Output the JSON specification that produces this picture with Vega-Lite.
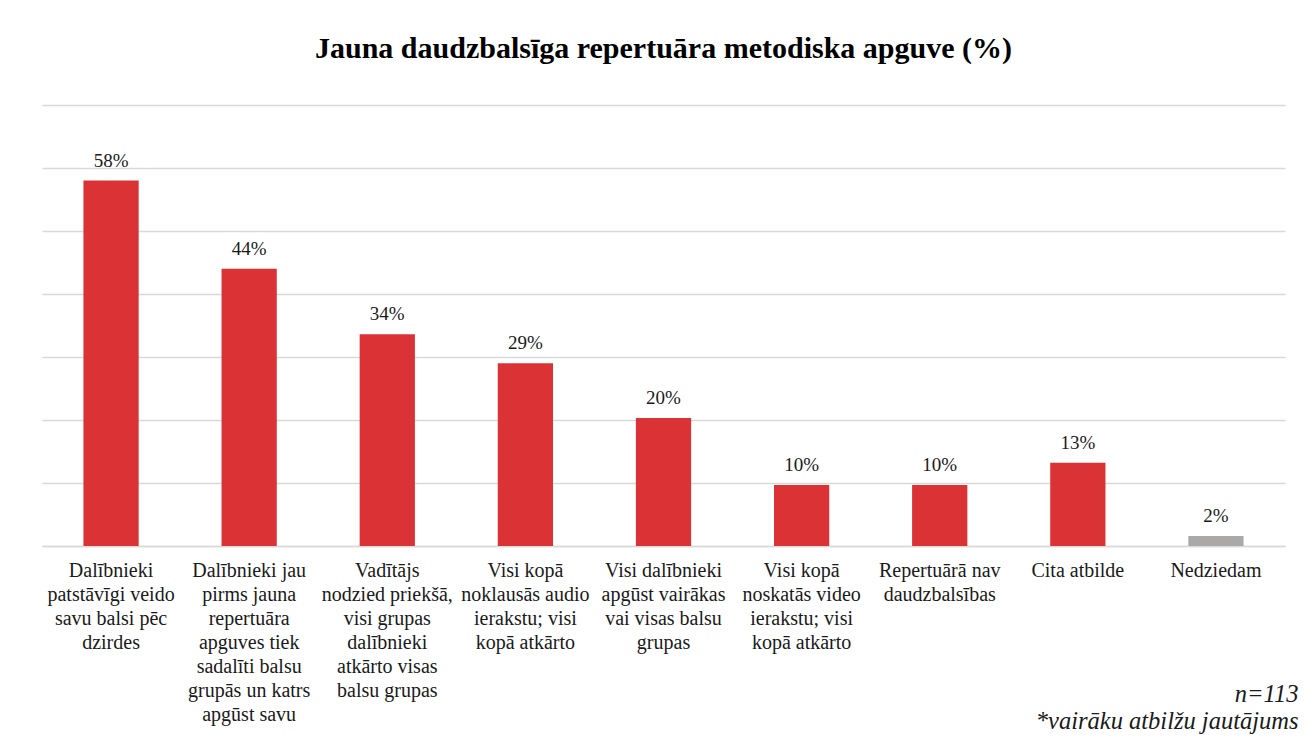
{
  "$schema": "https://vega.github.io/schema/vega-lite/v6.json",
  "autosize": "none",
  "padding": {"left": 42, "top": 105, "right": 24, "bottom": 210},
  "width": 1243,
  "height": 441,
  "background": "white",
  "config": {"view": {"stroke": null}},
  "title": {
    "text": "Jauna daudzbalsīga repertuāra metodiska apguve (%)",
    "font": "Liberation Serif",
    "fontSize": 30,
    "fontWeight": "bold",
    "color": "#000000",
    "anchor": "middle",
    "offset": 41
  },
  "data": {
    "values": [
      {"label": "Dalībnieki\npatstāvīgi veido\nsavu balsi pēc\ndzirdes", "value": 58, "text": "58%", "group": "a"},
      {"label": "Dalībnieki jau\npirms jauna\nrepertuāra\napguves tiek\nsadalīti balsu\ngrupās un katrs\napgūst savu", "value": 44, "text": "44%", "group": "a"},
      {"label": "Vadītājs\nnodzied priekšā,\nvisi grupas\ndalībnieki\natkārto visas\nbalsu grupas", "value": 33.6, "text": "34%", "group": "a"},
      {"label": "Visi kopā\nnoklausās audio\nierakstu; visi\nkopā atkārto", "value": 29, "text": "29%", "group": "a"},
      {"label": "Visi dalībnieki\napgūst vairākas\nvai visas balsu\ngrupas", "value": 20.3, "text": "20%", "group": "a"},
      {"label": "Visi kopā\nnoskatās video\nierakstu; visi\nkopā atkārto", "value": 9.7, "text": "10%", "group": "a"},
      {"label": "Repertuārā nav\ndaudzbalsības", "value": 9.7, "text": "10%", "group": "a"},
      {"label": "Cita atbilde", "value": 13.2, "text": "13%", "group": "a"},
      {"label": "Nedziedam", "value": 1.6, "text": "2%", "group": "b"}
    ]
  },
  "encoding": {
    "x": {
      "field": "label",
      "type": "nominal",
      "sort": null,
      "scale": {"paddingInner": 0.6, "paddingOuter": 0.3},
      "axis": {
        "labelExpr": "split(datum.value, '\\n')",
        "labelAngle": 0,
        "labelFont": "Liberation Serif",
        "labelFontSize": 20,
        "labelLineHeight": 24,
        "labelColor": "#1a1a1a",
        "labelBaseline": "top",
        "labelPadding": 14,
        "labelLimit": 0,
        "ticks": false,
        "domainColor": "#D9D9D9",
        "domainWidth": 1.5,
        "title": ["n=113", "*vairāku atbilžu jautājums"],
        "titleFont": "Liberation Serif",
        "titleFontSize": 24.5,
        "titleFontStyle": "italic",
        "titleFontWeight": "normal",
        "titleColor": "#1a1a1a",
        "titleLineHeight": 27,
        "titleAnchor": "end",
        "titleAlign": "right",
        "titleBaseline": "alphabetic",
        "titleX": 1256,
        "titleY": 155
      }
    },
    "y": {
      "field": "value",
      "type": "quantitative",
      "scale": {"domain": [0, 70]},
      "axis": {
        "values": [0, 10, 20, 30, 40, 50, 60, 70],
        "labels": false,
        "ticks": false,
        "domain": false,
        "title": null,
        "gridColor": "#D9D9D9",
        "gridWidth": 1.5
      }
    }
  },
  "layer": [
    {
      "mark": {"type": "bar"},
      "encoding": {
        "color": {
          "field": "group",
          "type": "nominal",
          "scale": {"domain": ["a", "b"], "range": ["#DA3235", "#ABA8A8"]},
          "legend": null
        }
      }
    },
    {
      "mark": {
        "type": "text",
        "baseline": "alphabetic",
        "dy": -14,
        "font": "Liberation Serif",
        "fontSize": 19,
        "color": "#1a1a1a"
      },
      "encoding": {"text": {"field": "text", "type": "nominal"}}
    }
  ]
}
